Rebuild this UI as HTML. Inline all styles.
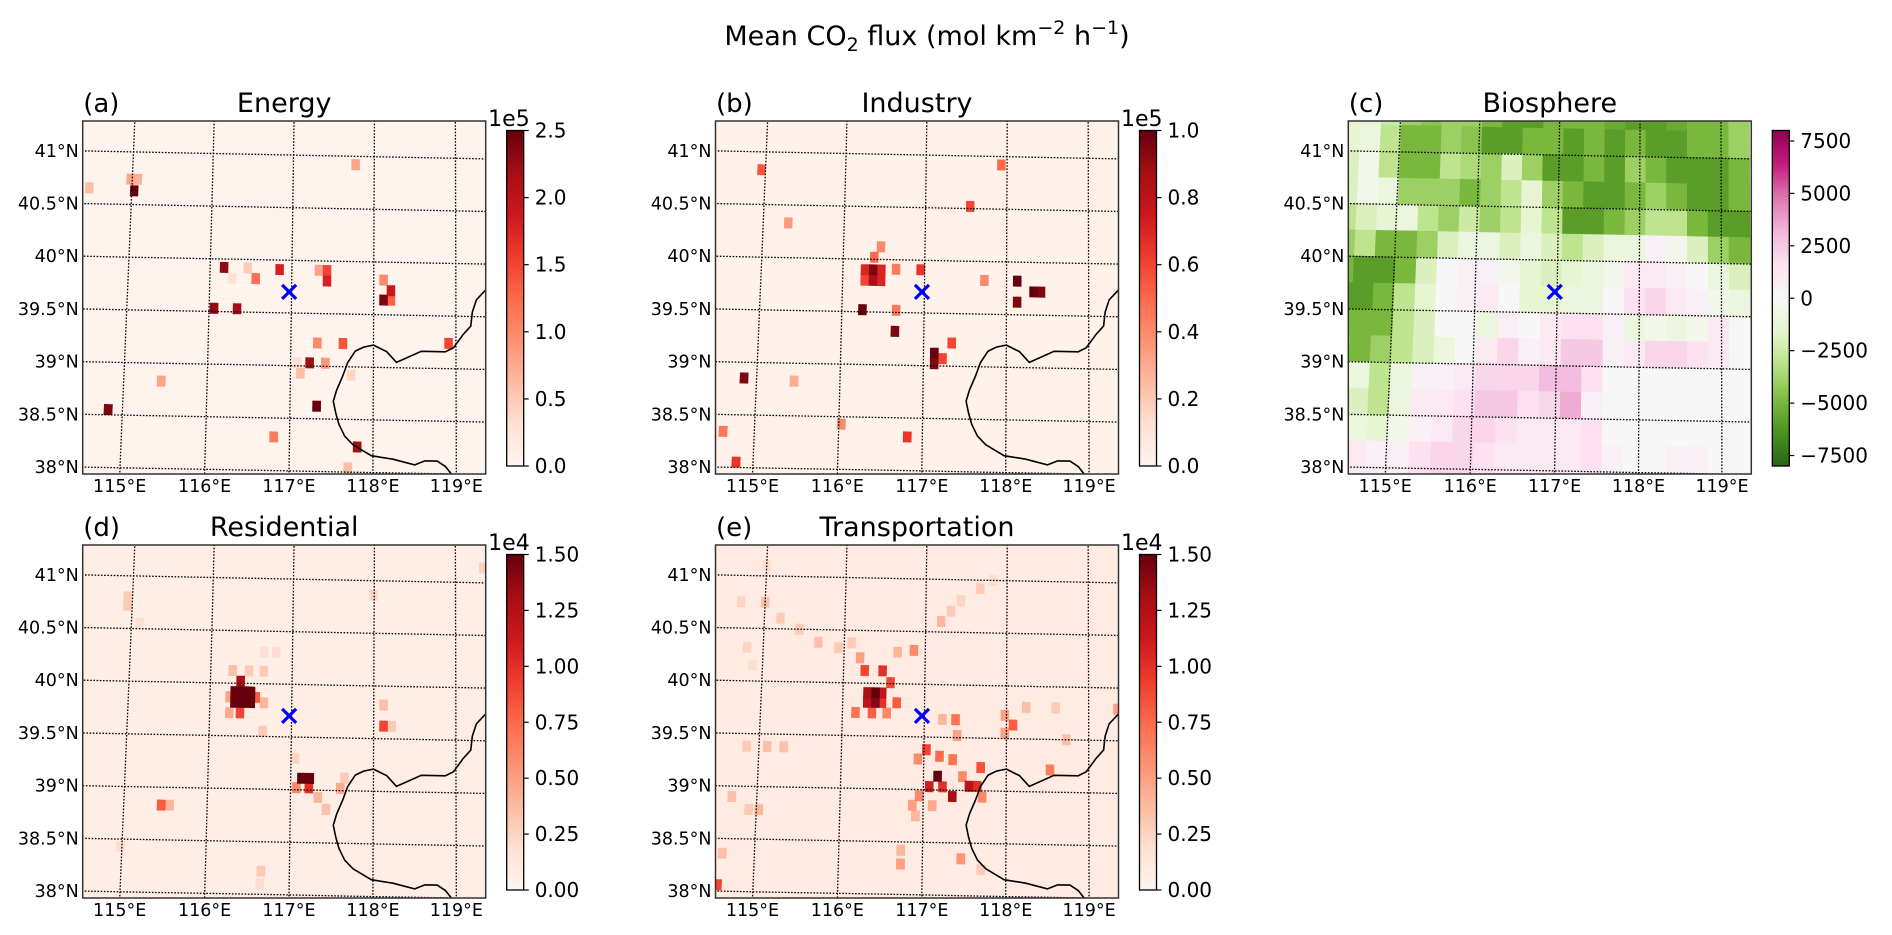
<!DOCTYPE html>
<html><head><meta charset="utf-8">
<style>
html,body{margin:0;padding:0;background:#fff;}
svg{display:block;font-family:"DejaVu Sans","Liberation Sans",sans-serif;}
</style></head>
<body>
<svg id="fig" width="1892" height="935" viewBox="0 0 1892 935" xmlns="http://www.w3.org/2000/svg">
<text x="927" y="45" font-size="27" text-anchor="middle">Mean CO<tspan font-size="19" dy="6">2</tspan><tspan dy="-6"> flux (mol km</tspan><tspan font-size="19" dy="-11">−2</tspan><tspan dy="11"> h</tspan><tspan font-size="19" dy="-11">−1</tspan><tspan dy="11">)</tspan></text>
</svg>
<script>
// ---------- data ----------
const panelLetters = ["(a)","(b)","(c)","(d)","(e)"];
const panelTitles = ["Energy","Industry","Biosphere","Residential","Transportation"];
const energyTicks = [0,0.5,1.0,1.5,2.0,2.5];
const industryTicks = [0,0.2,0.4,0.6,0.8,1.0];
const bioTicks = [-7500,-5000,-2500,0,2500,5000,7500];
const resTicks = [0,0.25,0.5,0.75,1.0,1.25,1.5];
const transTicks = [0,0.25,0.5,0.75,1.0,1.25,1.5];
const latTicks = [38,38.5,39,39.5,40,40.5,41];
const lonTicks = [115,116,117,118,119];
const siteLonLat = [116.97,39.70];
// [lon, lat, value] in colorbar units
const energyCells = [
[115.03,40.63,2.5],[114.98,40.74,0.8],[115.07,40.74,0.7],[114.47,40.65,0.6],[117.77,40.92,0.8],
[116.17,39.92,2.3],[116.46,39.92,0.5],[116.56,39.82,1.2],[116.27,39.82,0.3],[116.85,39.91,1.8],
[117.33,39.91,0.8],[117.43,39.91,1.5],[117.43,39.81,1.8],[118.12,39.83,1.0],[118.21,39.73,1.9],
[118.12,39.64,2.4],[118.21,39.64,1.3],[116.06,39.53,2.3],[116.34,39.53,2.2],[117.32,39.22,1.0],
[117.63,39.22,1.4],[118.91,39.24,1.5],[117.23,39.03,2.2],[117.42,39.03,0.9],[117.08,39.03,0.3],
[117.12,38.93,0.6],[117.73,38.92,0.4],[115.45,38.83,0.8],[117.32,38.62,2.5],[114.83,38.55,2.4],
[116.81,38.32,1.1],[117.81,38.24,2.2],[117.70,38.04,0.6],[114.50,38.04,1.8],[114.50,38.13,0.8]];
const industryCells = [
[114.95,40.83,0.55],[115.31,40.33,0.35],[117.93,40.92,0.5],[117.55,40.52,0.6],[116.46,40.12,0.4],
[116.38,40.02,0.5],[116.27,39.90,0.7],[116.47,39.90,0.7],[116.27,39.80,0.6],[116.47,39.80,0.7],
[116.37,39.90,0.95],[116.37,39.80,0.85],[116.65,39.91,0.45],[116.95,39.91,0.65],[117.73,39.82,0.4],
[118.13,39.82,1.0],[118.13,39.62,0.95],[118.42,39.72,0.95],[118.33,39.72,1.0],[116.25,39.52,1.0],
[116.66,39.52,0.45],[116.65,39.32,0.95],[117.34,39.22,0.6],[117.23,39.07,0.6],[117.13,39.12,1.0],
[117.13,39.02,0.95],[114.85,38.85,0.95],[115.45,38.83,0.3],[114.63,38.34,0.45],[116.03,38.43,0.4],
[116.82,38.32,0.65],[114.80,38.05,0.65],[114.51,38.05,0.35]];
const resCells = [
[116.24,39.87,0.5],[116.56,39.87,0.8],[116.66,39.82,0.4],[116.27,40.12,0.35],[116.47,40.12,0.3],
[116.24,39.72,0.45],[116.65,40.12,0.3],[116.65,40.30,0.2],[116.80,40.30,0.2],[116.65,39.55,0.3],
[116.37,40.02,1.3],[116.37,39.72,0.9],[116.30,39.92,1.5],[116.40,39.92,1.5],[116.50,39.92,1.5],
[116.30,39.82,1.5],[116.40,39.82,1.5],[116.50,39.82,1.5],[117.07,39.02,0.6],[117.13,39.11,1.5],
[117.23,39.11,1.5],[117.22,39.02,1.0],[117.33,38.93,0.4],[117.43,38.82,0.35],[117.60,39.02,0.45],
[117.65,39.12,0.3],[117.05,39.30,0.25],[118.12,39.62,0.9],[118.12,39.82,0.35],[118.22,39.62,0.3],
[115.45,38.83,0.8],[115.55,38.83,0.4],[114.51,38.06,0.9],[114.94,40.80,0.3],[114.94,40.72,0.3],
[115.10,40.55,0.2],[117.99,40.86,0.25],[119.34,41.14,0.25],[116.66,38.22,0.3],[116.65,38.10,0.2],
[114.98,38.43,0.2]];
const transCells = [
[116.40,39.91,1.5],[116.30,39.91,1.3],[116.48,39.91,1.2],[116.30,39.82,1.2],[116.40,39.82,1.4],
[116.48,39.82,1.0],[116.26,40.12,0.9],[116.48,40.12,1.0],[116.58,40.01,0.9],[116.66,39.82,0.8],
[116.16,39.72,0.7],[116.36,39.72,0.8],[116.54,39.72,0.6],[116.20,40.24,0.5],[116.66,40.30,0.4],
[116.86,40.32,0.6],[115.00,40.75,0.35],[115.20,40.60,0.3],[115.44,40.50,0.3],[115.68,40.38,0.35],
[115.93,40.33,0.3],[116.09,40.38,0.3],[114.70,40.75,0.25],[114.80,40.32,0.25],[114.88,40.15,0.2],
[115.00,41.10,0.2],[117.19,40.60,0.4],[117.31,40.70,0.3],[117.43,40.80,0.25],[117.67,40.92,0.3],
[117.83,41.00,0.2],[117.17,39.13,1.5],[117.07,39.03,1.1],[117.23,39.03,1.0],[117.35,38.94,1.3],
[117.55,39.04,1.2],[117.65,39.04,1.0],[117.69,39.22,0.85],[117.19,39.32,0.75],[117.35,39.29,0.7],
[117.03,39.38,0.9],[116.93,39.29,0.6],[117.47,39.13,0.6],[116.95,38.94,0.6],[116.87,38.85,0.5],
[116.91,38.75,0.4],[117.11,38.85,0.45],[117.71,38.94,0.6],[118.08,39.63,0.8],[117.98,39.72,0.5],
[117.98,39.55,0.5],[118.24,39.80,0.35],[118.60,39.80,0.3],[119.35,39.80,0.5],[118.53,39.21,0.65],
[118.73,39.50,0.35],[117.38,39.67,0.7],[117.40,39.52,0.5],[117.22,39.67,0.4],[115.10,39.38,0.35],
[114.85,39.38,0.3],[115.30,39.38,0.35],[114.70,38.90,0.35],[115.03,38.78,0.4],[114.91,38.78,0.3],
[114.62,38.36,0.35],[114.50,38.22,0.5],[114.58,38.06,0.9],[116.74,38.29,0.5],[116.74,38.42,0.4],
[117.46,38.35,0.55],[117.70,38.25,0.3]];
const bioLon0 = 114.25, bioLat0 = 41.5, bioStepLon = 0.255, bioStepLat = 0.25;
const bioRows = [
[-1.5,-1.5,-2.5,-4,-4.5,-4,-4,-5,-6,-6,-5,-5,-5,-5.5,-6,-6,-5.5,-5,-5,-4],
[-1.5,-1,-3,-5,-5,-4,-4.5,-6,-6,-5,-5,-6,-5,-6,-5,-6,-6,-5,-5,-4],
[-2,-0.5,-3,-5,-5,-3,-3.5,-4,-2,-4,-6,-6,-5,-6,-4,-5,-6,-6,-6,-5],
[-2,-0.5,-1,-4,-4,-4,-5,-4,-3,-1.5,-4,-5,-6,-6,-5,-4,-5,-6,-6,-5],
[-3,-2,-1.5,-1,-3,-4,-2.5,-4,-3,-1.5,-3,-6,-6,-5,-4,-3,-3,-5,-6,-6],
[-4,-3,-5,-5,-4,-2,-1,-1,-2,-1,-2,-3,-2,-1,-1,0.5,-0.5,-2,-4,-5],
[-5,-6,-6,-5,-2,0,0.5,0.5,-0.5,-1.5,-2,-1.5,-1,-0.5,1,1,0.5,0,-1,-2],
[-6,-6,-5,-3,-1.5,0,0.5,1,0,-1.5,-1.5,-1,-1,0,1.5,2,1,0.5,-0.5,-1],
[-5,-5,-5,-3,-2,0,0,-1,0.5,0,1,1.5,1.5,0.5,-1,-0.5,-1,-0.5,1,0],
[-4,-5,-4,-3,-2,-1,0,1,2,0.5,1,2.5,2.5,0.5,1,2,2,1.5,1,0],
[1,-1,-3,-1,0.5,0.5,1,2,2,2,3,3,1.5,0,0,0,0,0,0,0],
[0.5,-2,-3,-1,1,1,1.5,2.5,2.5,1.5,2,3.5,0.5,0,0,0,0,0,0,0],
[0.5,-1,-1.5,-0.5,0.5,1,2,2,1.5,1,1,1,1.5,0,0,0,0,0,0,0],
[1.5,1,0.5,0.5,1.5,2,2,1.5,1,1,1,1,1.5,0.5,0,0,0.5,0.5,0,0],
[1.5,1,0.5,0.5,1.5,2,2,1.5,1,1,1,1,1,0.5,0,0,0.5,0.5,0,0]];
const coastLon = [119.37,119.25,119.20,119.18,119.09,118.97,118.87,118.73,118.58,118.28,118.16,118.00,117.88,117.78,117.69,117.63,117.56,117.52,117.55,117.59,117.66,117.76,117.98,118.24,118.50,118.62,118.77,118.87,118.94,119.0];
const coastLat = [39.76,39.66,39.54,39.41,39.33,39.20,39.16,39.16,39.16,39.05,39.15,39.21,39.19,39.15,39.04,38.91,38.78,38.67,38.56,38.45,38.34,38.26,38.16,38.13,38.08,38.12,38.12,38.07,38.00,37.92];

// ---------- helpers ----------
const NS = "http://www.w3.org/2000/svg";
const svg = document.getElementById("fig");
const W = 403, H = 353;
const reds = ['#fff5f0','#fee0d2','#fcbba1','#fc9272','#fb6a4a','#ef3b2c','#cb181d','#a50f15','#67000d'];
const piyg = ['#276419','#4d9221','#7fbc41','#b8e186','#e6f5d0','#f7f7f7','#fde0ef','#f1b6da','#de77ae','#c51b7d','#8e0152'];
function hex(c){return [parseInt(c.slice(1,3),16),parseInt(c.slice(3,5),16),parseInt(c.slice(5,7),16)];}
function cmap(stops,t){t=Math.max(0,Math.min(1,t));const n=stops.length-1;const i=Math.min(n-1,Math.floor(t*n));const f=t*n-i;const a=hex(stops[i]),b=hex(stops[i+1]);return 'rgb('+a.map((v,k)=>Math.round(v+(b[k]-v)*f)).join(',')+')';}
function proj(lon,lat){const dl=lon-117,dp=lat-39.5,q=117-lon;const t=1.5+1.2*q+0.15*q*q;return [208.6+82.3*dl+t*dp,192-105.3*dp+1.6*dl];}
function mk(tag,attrs,parent){const e=document.createElementNS(NS,tag);for(const k in attrs)e.setAttribute(k,attrs[k]);if(parent)parent.appendChild(e);return e;}
function cellPoly(lon,lat,hw,hh){return [[lon-hw,lat+hh],[lon+hw,lat+hh],[lon+hw,lat-hh],[lon-hw,lat-hh]].map(p=>proj(p[0],p[1]).map(v=>v.toFixed(1)).join(',')).join(' ');}

const panels = [
 {x:82.7,y:121,kind:'red',cells:energyCells,vmax:2.5,base:0.03,ticks:energyTicks,dec:1,exp:'1e5',coast:true,name:'energy'},
 {x:715.5,y:121,kind:'red',cells:industryCells,vmax:1.0,base:0.02,ticks:industryTicks,dec:1,exp:'1e5',coast:true,name:'industry'},
 {x:1348.3,y:121,kind:'bio',vmax:8000,ticks:bioTicks,dec:0,exp:'',coast:false,name:'biosphere'},
 {x:82.7,y:545,kind:'red',cells:resCells,vmax:1.5,base:0.06,ticks:resTicks,dec:2,exp:'1e4',coast:true,name:'residential'},
 {x:715.5,y:545,kind:'red',cells:transCells,vmax:1.5,base:0.085,ticks:transTicks,dec:2,exp:'1e4',coast:true,name:'transportation'}
];
const defs = mk('defs',{},svg);

panels.forEach((p,pi)=>{
 const g = mk('g',{transform:`translate(${p.x},${p.y})`},svg);
 
 
 const cp = mk('clipPath',{id:'clip'+pi},defs);
 mk('rect',{x:0,y:0,width:W,height:H},cp);
 const lt = mk('text',{x:0.5,y:-9,'font-size':26},g); lt.textContent = panelLetters[pi];
 
 
 const tt = mk('text',{x:W/2,y:-9,'font-size':27,'text-anchor':'middle'},g); tt.textContent = panelTitles[pi];
 
 
 const m = mk('g',{'clip-path':`url(#clip${pi})`},g);
 
 
 if(p.kind==='red'){
   mk('rect',{x:0,y:0,width:W,height:H,fill:cmap(reds,p.base/p.vmax)},m);
   const sorted = p.cells.slice().sort((a,b)=>a[2]-b[2]);
   sorted.forEach(c=>{
     const r = mk('polygon',{points:cellPoly(c[0],c[1],0.052,0.052),fill:cmap(reds,c[2]/p.vmax)},m);
     
     
   });
 } else {
   mk('rect',{x:0,y:0,width:W,height:H,fill:'#eef5e4'},m);
   bioRows.forEach((row,ri)=>row.forEach((v,ci)=>{
     const lon = bioLon0+bioStepLon*(ci+0.5), lat = bioLat0-bioStepLat*(ri+0.5);
     const r = mk('polygon',{points:cellPoly(lon,lat,bioStepLon/2+0.004,bioStepLat/2+0.004),fill:cmap(piyg,(v*1000+p.vmax)/(2*p.vmax))},m);
     
     
   }));
 }
 if(p.coast){
   const pts = coastLon.map((lo,i)=>proj(lo,coastLat[i]).map(v=>v.toFixed(1)).join(',')).join(' ');
   const cl = mk('polyline',{points:pts,fill:'none',stroke:'#000','stroke-width':1.6},m);
   
   
 }
 latTicks.forEach(lat=>{
   const pts=[];for(let lo=113.5;lo<=120.01;lo+=0.5)pts.push(proj(lo,lat));
   const gl = mk('polyline',{points:pts.map(q=>q[0].toFixed(1)+','+q[1].toFixed(1)).join(' '),fill:'none',stroke:'#000','stroke-width':1.3,'stroke-dasharray':'1.6,1.6'},m);
   
   
   const a=proj(114,lat),b=proj(115,lat);const f=(0-a[0])/(b[0]-a[0]);const yy=a[1]+f*(b[1]-a[1]);
   const lb = mk('text',{x:-4,y:yy+6,'font-size':17.5,'text-anchor':'end'},g);
   lb.textContent = (lat%1===0?lat.toFixed(0):lat.toFixed(1))+'°N';
   
   
 });
 lonTicks.forEach(lon=>{
   const pts=[];for(let la=37.5;la<=42.01;la+=0.5)pts.push(proj(lon,la));
   const gl = mk('polyline',{points:pts.map(q=>q[0].toFixed(1)+','+q[1].toFixed(1)).join(' '),fill:'none',stroke:'#000','stroke-width':1.3,'stroke-dasharray':'1.6,1.6'},m);
   
   
   const a=proj(lon,38),b=proj(lon,37.5);const f=(H-a[1])/(b[1]-a[1]);const xx=a[0]+f*(b[0]-a[0]);
   const lb = mk('text',{x:xx,y:H+18,'font-size':17.5,'text-anchor':'middle'},g);
   lb.textContent = lon+'°E';
   
   
 });
 const s = proj(siteLonLat[0],siteLonLat[1]);
 const mx = mk('path',{d:`M${s[0]-7},${s[1]-7}L${s[0]+7},${s[1]+7}M${s[0]-7},${s[1]+7}L${s[0]+7},${s[1]-7}`,stroke:'#0000ff','stroke-width':3.2,fill:'none'},g);
 
 
 const fr = mk('rect',{x:0,y:0,width:W,height:H,fill:'none',stroke:'#333','stroke-width':1.5},g);
 
 
 const cbx=W+21, cby=9.5, cbw=17, cbh=335.5;
 const stops = p.kind==='red'?reds:piyg;
 const gr = mk('linearGradient',{id:'grad'+pi,x1:0,y1:1,x2:0,y2:0},defs);
 stops.forEach((c,i)=>mk('stop',{offset:(i/(stops.length-1)),'stop-color':c},gr));
 const cb = mk('g',{},g);
 
 
 mk('rect',{x:cbx,y:cby,width:cbw,height:cbh,fill:`url(#grad${pi})`,stroke:'#000','stroke-width':1.3},cb);
 const lo = p.kind==='red'?0:-p.vmax, hi = p.vmax;
 p.ticks.forEach(tv=>{
   const yy = cby+cbh-(tv-lo)/(hi-lo)*cbh;
   mk('line',{x1:cbx+cbw,y1:yy,x2:cbx+cbw+5,y2:yy,stroke:'#000','stroke-width':1.2},cb);
   const t = mk('text',{x:cbx+cbw+11,y:yy+7,'font-size':20},cb);
   t.textContent = p.kind==='red'? tv.toFixed(p.dec) : (tv<0?'−'+Math.abs(tv):String(tv));
   
   
 });
 if(p.exp){
   const e = mk('text',{x:cbx+cbw+6,y:5,'font-size':22,'text-anchor':'end'},cb);
   e.textContent = p.exp;
   
   
 }
});
</script>
</body></html>
